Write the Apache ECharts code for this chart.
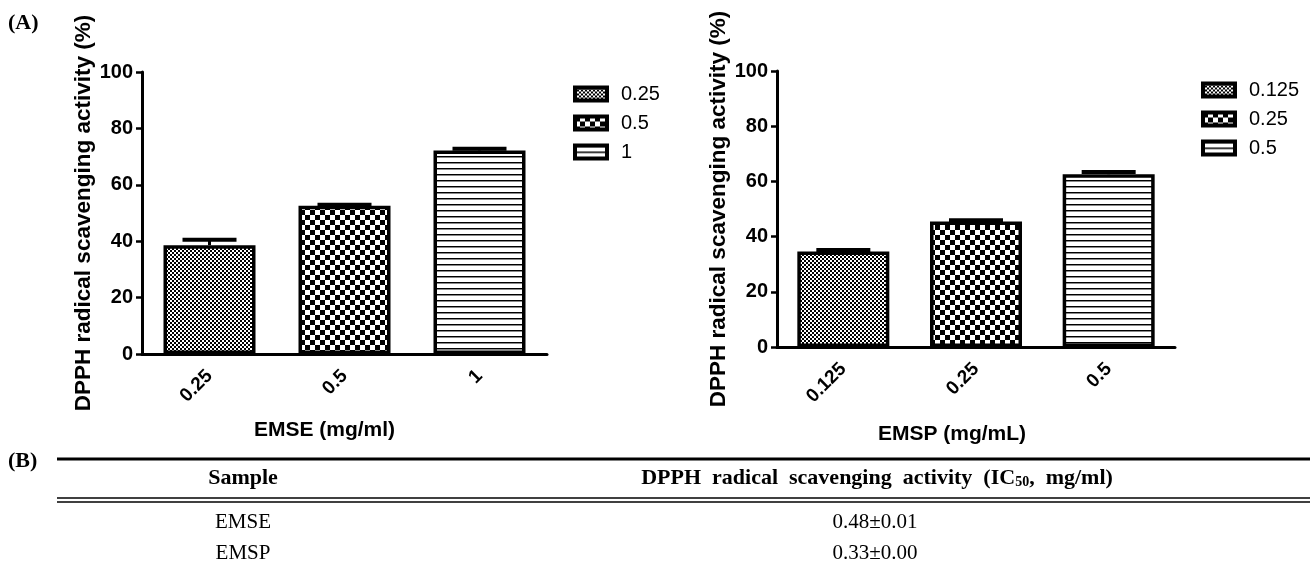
<!DOCTYPE html>
<html>
<head>
<meta charset="utf-8">
<script src="https://cdn.jsdelivr.net/npm/echarts@6/dist/echarts.min.js"></script>
<style>
  html, body { margin: 0; padding: 0; background: #fff; }
  #main, #right { position: absolute; left: 0; top: 0; width: 1314px; height: 575px; }
</style>
</head>
<body>
<div id="main"></div>
<div id="right"></div>
<script>
// (A) left panel - EMSE
const emseDoses = ['0.25', '0.5', '1'];
const emseMeans = [38.6, 52.6, 72.2];
const emseErrs = [1.9, 0.3, 0.6];

// (A) right panel - EMSP
const emspDoses = ['0.125', '0.25', '0.5'];
const emspMeans = [34.6, 45.5, 62.6];
const emspErrs = [0.5, 0.4, 0.8];

const yTicks = [0, 20, 40, 60, 80, 100];

// (B) table
const tableHeader = ['Sample', 'DPPH radical scavenging activity (IC{sub|50}, mg/ml)'];
const tableSamples = ['EMSE', 'EMSP'];
const tableIC50 = ['0.48±0.01', '0.33±0.00'];

const sans = 'Liberation Sans, Arial, sans-serif';
const serif = 'Liberation Serif, Times New Roman, serif';

// fill patterns like the graphpad hatches
function makePattern(kind) {
  const c = document.createElement('canvas');
  const ctx = c.getContext('2d');
  if (kind === 'fine') {
    c.width = 4; c.height = 4;
    ctx.fillStyle = '#fff'; ctx.fillRect(0, 0, 4, 4);
    ctx.fillStyle = '#000';
    ctx.fillRect(0, 0, 2, 2); ctx.fillRect(2, 2, 2, 2);
  } else if (kind === 'check') {
    c.width = 10; c.height = 10;
    ctx.fillStyle = '#fff'; ctx.fillRect(0, 0, 10, 10);
    ctx.fillStyle = '#000';
    ctx.fillRect(0, 0, 5, 5); ctx.fillRect(5, 5, 5, 5);
  } else {
    c.width = 6; c.height = 6;
    ctx.fillStyle = '#fff'; ctx.fillRect(0, 0, 6, 6);
    ctx.fillStyle = '#000';
    ctx.fillRect(0, 0, 6, 1);
    ctx.fillStyle = '#888';
    ctx.fillRect(0, 1, 6, 1);
  }
  return { image: c, repeat: 'repeat' };
}

function barPanel(cats, means, errs, grid, xName, xNameGap, xNameShift, legendPos) {
  const patterns = ['fine', 'check', 'stripe'].map(makePattern);
  const series = cats.map((c, i) => ({
    name: c,
    type: 'bar',
    barWidth: 92,
    barGap: '-100%',
    data: means.map((v, j) => (j === i ? v : '-')),
    itemStyle: { color: patterns[i], borderColor: '#000', borderWidth: 3.5 }
  }));
  // error bars (upper only)
  series.push({
    type: 'custom',
    z: 5,
    encode: { x: 0, y: 1 },
    data: means.map((v, i) => [i, v, errs[i]]),
    renderItem: (params, api) => {
      const base = api.coord([api.value(0), api.value(1)]);
      const top = api.coord([api.value(0), api.value(1) + api.value(2)]);
      return {
        type: 'group',
        children: [
          { type: 'line', shape: { x1: base[0], y1: base[1], x2: base[0], y2: top[1] },
            style: { stroke: '#000', lineWidth: 3 } },
          { type: 'line', shape: { x1: base[0] - 27, y1: top[1], x2: base[0] + 27, y2: top[1] },
            style: { stroke: '#000', lineWidth: 4 } }
        ]
      };
    }
  });

  return {
    backgroundColor: 'transparent',
    animation: false,
    grid: grid,
    legend: {
      orient: 'vertical',
      left: legendPos[0],
      top: legendPos[1],
      padding: 0,
      icon: 'rect',
      itemWidth: 32,
      itemHeight: 13,
      itemGap: 9,
      data: cats,
      itemStyle: { borderWidth: 4, borderColor: '#000' },
      textStyle: { fontFamily: sans, fontSize: 20, color: '#000', padding: [0, 0, 0, 9] }
    },
    xAxis: {
      type: 'category',
      data: cats,
      name: xName,
      nameLocation: 'middle',
      nameGap: xNameGap,
      nameTextStyle: { fontFamily: sans, fontWeight: 'bold', fontSize: 21, color: '#000',
                       padding: [0, xNameShift, 0, 0] },
      axisLine: { lineStyle: { color: '#000', width: 3 } },
      axisTick: { alignWithLabel: true, length: 7, lineStyle: { color: '#000', width: 2.5 } },
      axisLabel: { rotate: 45, fontFamily: sans, fontWeight: 'bold', fontSize: 19, color: '#000', margin: 19 }
    },
    yAxis: {
      type: 'value',
      min: yTicks[0],
      max: yTicks[yTicks.length - 1],
      interval: yTicks[1] - yTicks[0],
      name: 'DPPH radical scavenging activity (%)',
      nameLocation: 'middle',
      nameGap: 45,
      nameTextStyle: { fontFamily: sans, fontWeight: 'bold', fontSize: 22.5, color: '#000' },
      axisLine: { show: true, lineStyle: { color: '#000', width: 3 } },
      axisTick: { show: true, length: 6, lineStyle: { color: '#000', width: 2.5 } },
      axisLabel: { fontFamily: sans, fontWeight: 'bold', fontSize: 20, color: '#000', margin: 9 },
      splitLine: { show: false }
    },
    series: series
  };
}

// left chart + labels + table
const mainChart = echarts.init(document.getElementById('main'));
const optA = barPanel(emseDoses, emseMeans, emseErrs,
  { left: 142, right: 767, top: 72, bottom: 221 }, 'EMSE (mg/ml)', 66, 40, [573, 84]);
optA.backgroundColor = '#fff';

const tableEls = [
  { type: 'text', left: 8, top: 12, style: { text: '(A)', font: 'bold 22px ' + serif, fill: '#000' } },
  { type: 'text', left: 8, top: 450, style: { text: '(B)', font: 'bold 22px ' + serif, fill: '#000' } },
  { type: 'line', shape: { x1: 57, y1: 459, x2: 1310, y2: 459 }, style: { stroke: '#000', lineWidth: 3 } },
  { type: 'line', shape: { x1: 57, y1: 498, x2: 1310, y2: 498 }, style: { stroke: '#000', lineWidth: 1.5 } },
  { type: 'line', shape: { x1: 57, y1: 502, x2: 1310, y2: 502 }, style: { stroke: '#000', lineWidth: 1.5 } },
  { type: 'text', x: 243, y: 478, style: { text: tableHeader[0], font: 'bold 22px ' + serif, fill: '#000',
      align: 'center', verticalAlign: 'middle' } },
  { type: 'text', x: 877, y: 478, style: {
      text: tableHeader[1].split(' ').join('  '),
      font: 'bold 22px ' + serif, fill: '#000', align: 'center', verticalAlign: 'middle',
      rich: { sub: { fontFamily: serif, fontWeight: 'bold', fontSize: 14, verticalAlign: 'bottom' } } } }
];
const rowY = [522, 553];
tableSamples.forEach((s, i) => {
  tableEls.push({ type: 'text', x: 243, y: rowY[i], style: { text: s, font: '21px ' + serif, fill: '#000',
      align: 'center', verticalAlign: 'middle' } });
  tableEls.push({ type: 'text', x: 875, y: rowY[i], style: { text: tableIC50[i], font: '21px ' + serif, fill: '#000',
      align: 'center', verticalAlign: 'middle' } });
});
optA.graphic = tableEls;
mainChart.setOption(optA);

// right chart, overlaid
const rightChart = echarts.init(document.getElementById('right'));
rightChart.setOption(barPanel(emspDoses, emspMeans, emspErrs,
  { left: 777, right: 139, top: 71, bottom: 228 }, 'EMSP (mg/mL)', 77, 48, [1201, 80]));
</script>
</body>
</html>
